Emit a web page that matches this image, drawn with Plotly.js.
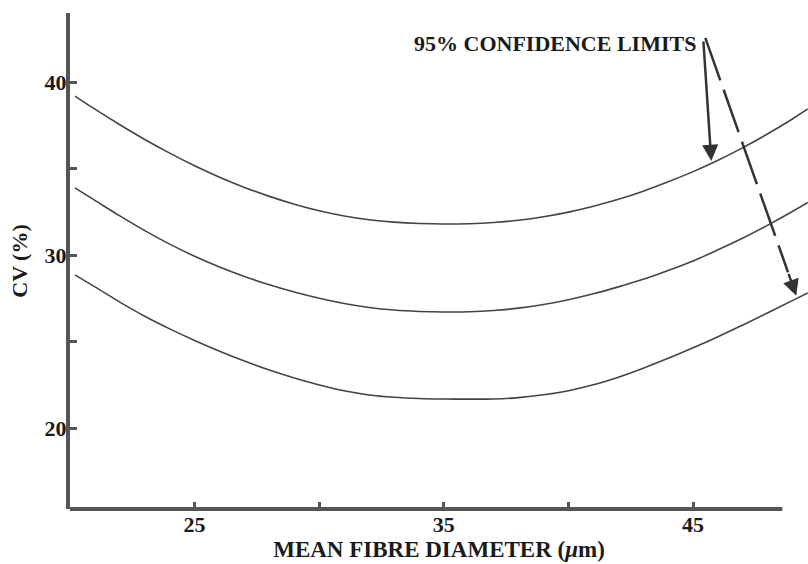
<!DOCTYPE html>
<html>
<head>
<meta charset="utf-8">
<script src="https://cdn.plot.ly/plotly-3.0.1.min.js"></script>
<style>html,body{margin:0;padding:0;background:#fff;}#chart{width:808px;height:564px;}</style>
</head>
<body>
<div id="chart"></div>
<script>
// Mean fibre diameter (µm)
const diameter = [20.2, 21, 22, 23, 24, 25, 26, 27, 28, 29, 30, 31, 32, 33, 34, 35, 36, 37, 38, 39, 40, 41, 42, 43, 44, 45, 46, 47, 48, 49, 49.6];
// Upper 95% confidence limit of CV (%)
const upperLimit = [39.21, 38.45, 37.55, 36.70, 35.91, 35.18, 34.52, 33.93, 33.41, 32.96, 32.58, 32.28, 32.06, 31.92, 31.84, 31.81, 31.83, 31.90, 32.03, 32.23, 32.50, 32.84, 33.24, 33.71, 34.25, 34.84, 35.50, 36.23, 37.03, 37.90, 38.46];
// Mean CV (%)
const meanCV = [33.90, 33.18, 32.28, 31.43, 30.65, 29.95, 29.33, 28.78, 28.30, 27.88, 27.52, 27.22, 26.99, 26.84, 26.76, 26.73, 26.74, 26.81, 26.95, 27.16, 27.44, 27.78, 28.18, 28.62, 29.13, 29.68, 30.32, 31.00, 31.75, 32.55, 33.06];
// Lower 95% confidence limit of CV (%)
const lowerLimit = [28.87, 28.18, 27.30, 26.48, 25.75, 25.08, 24.46, 23.89, 23.37, 22.91, 22.51, 22.17, 21.93, 21.80, 21.73, 21.70, 21.69, 21.70, 21.78, 21.94, 22.18, 22.52, 22.96, 23.48, 24.05, 24.66, 25.30, 25.98, 26.68, 27.40, 27.83];

const xTickVals = [25, 30, 35, 40, 45];
const xTickText = ['25', '', '35', '', '45'];
const yTickVals = [20, 25, 30, 35, 40];
const yTickText = ['20', '', '30', '', '40'];

const labelText = '95% CONFIDENCE LIMITS';
// arrow endpoints [tail x, tail y, head x, head y] in data units
const arrowUpper = [45.41, 42.45, 45.73, 35.46];
const arrowLower = [45.49, 42.57, 49.14, 27.66];
const arrowLowerNeck = [48.81, 29.02];

const serif = 'Liberation Serif, Times New Roman, serif';
const lineColor = '#444';
const axisColor = '#555';

const curveStyle = {color: lineColor, width: 1.6, shape: 'spline', smoothing: 1};
const traces = [
  {x: diameter, y: upperLimit, mode: 'lines', name: 'Upper limit', line: curveStyle, hoverinfo: 'x+y'},
  {x: diameter, y: meanCV, mode: 'lines', name: 'Mean', line: curveStyle, hoverinfo: 'x+y'},
  {x: diameter, y: lowerLimit, mode: 'lines', name: 'Lower limit', line: curveStyle, hoverinfo: 'x+y'}
];

const layout = {
  width: 808, height: 564,
  margin: {l: 70, r: 0, t: 13, b: 55, pad: 0},
  paper_bgcolor: '#fff', plot_bgcolor: '#fff',
  showlegend: false,
  font: {family: serif, color: '#222'},
  xaxis: {
    range: [20, 49.61],
    tickvals: xTickVals, ticktext: xTickText,
    ticks: 'inside', ticklen: 7, tickwidth: 3, tickcolor: axisColor,
    showline: false, showgrid: false, zeroline: false,
    tickfont: {family: serif, size: 22, color: '#1a1a1a', weight: 'bold'},
    title: {text: 'MEAN FIBRE DIAMETER (<i>μ</i>m)', font: {family: serif, size: 23, color: '#1a1a1a', weight: 'bold'}, standoff: 4},
    automargin: false
  },
  yaxis: {
    range: [15.34, 44.01],
    tickvals: yTickVals, ticktext: yTickText,
    ticks: 'inside', ticklen: 7, tickwidth: 3, tickcolor: axisColor,
    showline: true, linewidth: 4, linecolor: axisColor,
    showgrid: false, zeroline: false,
    ticklabelstandoff: -5,
    tickfont: {family: serif, size: 22, color: '#1a1a1a', weight: 'bold'},
    title: {text: 'CV (%)', font: {family: serif, size: 22, color: '#1a1a1a', weight: 'bold'}, standoff: 12},
    automargin: false
  },
  shapes: [
    {type: 'line', xref: 'x', yref: 'paper', x0: 20, x1: 48.58, y0: 0, y1: 0, line: {color: axisColor, width: 4}},
    {type: 'line', xref: 'x', yref: 'y', x0: arrowLower[0], y0: arrowLower[1], x1: arrowLowerNeck[0], y1: arrowLowerNeck[1], line: {color: '#333', width: 2.5, dash: '45px,10px'}}
  ],
  annotations: [
    {text: labelText, xref: 'paper', yref: 'paper', x: 0.657, y: 0.9395, xanchor: 'center', yanchor: 'middle', showarrow: false,
     font: {family: serif, size: 22, color: '#1a1a1a', weight: 'bold'}},
    {text: '', xref: 'x', yref: 'y', axref: 'x', ayref: 'y', x: arrowUpper[2], y: arrowUpper[3], ax: arrowUpper[0], ay: arrowUpper[1],
     showarrow: true, arrowhead: 2, arrowsize: 1.3, arrowwidth: 2.5, arrowcolor: '#333'},
    {text: '', xref: 'x', yref: 'y', axref: 'x', ayref: 'y', x: arrowLower[2], y: arrowLower[3], ax: arrowLowerNeck[0], ay: arrowLowerNeck[1],
     showarrow: true, arrowhead: 2, arrowsize: 1.3, arrowwidth: 2.5, arrowcolor: '#333'}
  ]
};

Plotly.newPlot('chart', traces, layout, {displayModeBar: false, staticPlot: true});
</script>
</body>
</html>
